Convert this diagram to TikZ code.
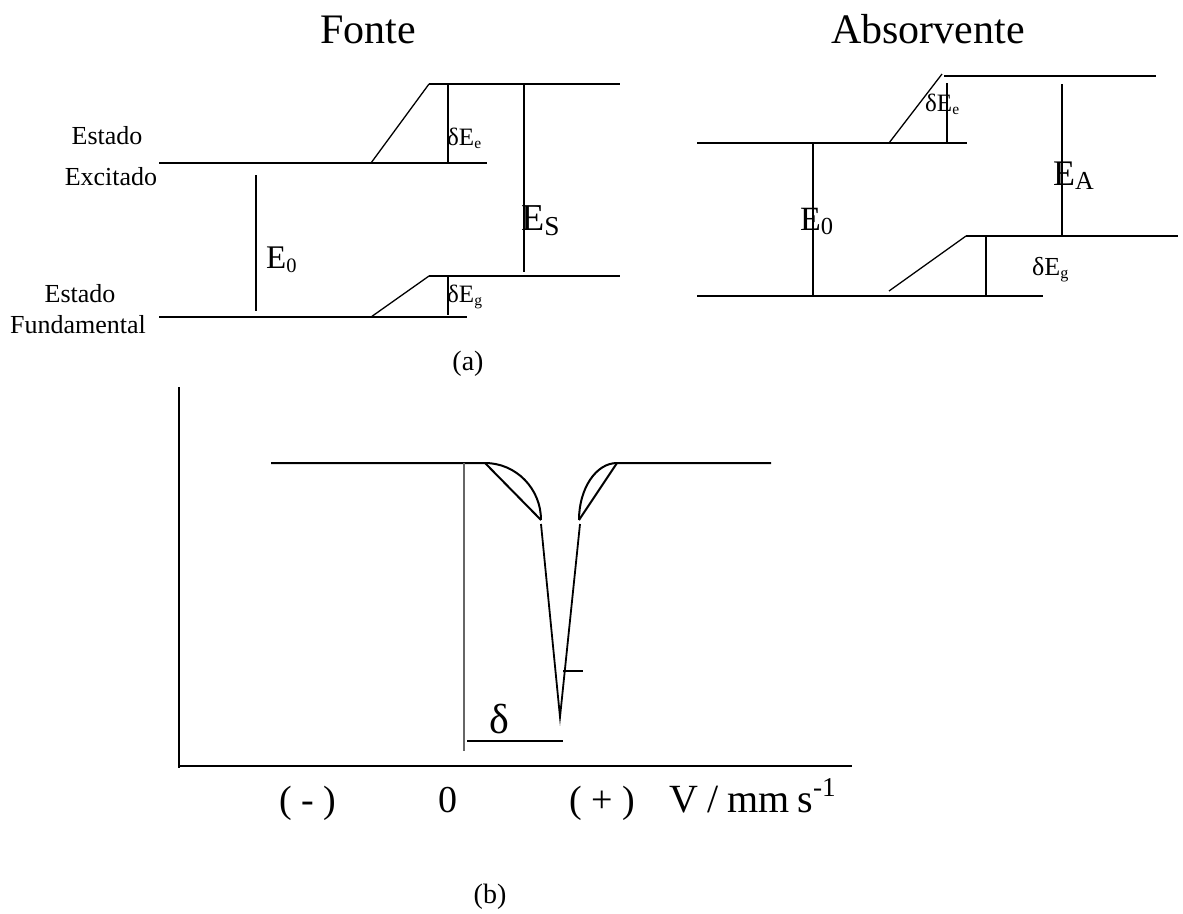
\documentclass[tikz,border=0pt]{standalone}
\usepackage{fontspec}
\setmainfont{Liberation Serif}
\newcommand\lowsub[1]{\raisebox{-0.3ex}{\scalebox{0.62}{#1}}}
\newcommand\upsup[1]{\raisebox{0.85ex}{\scalebox{0.68}{#1}}}
\newcommand\fsz[1]{\fontsize{#1}{#1}\selectfont}
\begin{document}
\begin{tikzpicture}[x=1pt,y=-1pt,
  lvl/.style={line width=2.8pt},
  thinl/.style={line width=1.3pt},
  vl/.style={line width=1.6pt},
  crv/.style={line width=2pt},
  lbl/.style={inner sep=0pt,anchor=base west},
  ctr/.style={inner sep=0pt,anchor=base}]
\useasboundingbox (0,0) rectangle (1183,913);
% titles
\node[ctr] (tF) at (368,43) {\fsz{42}Fonte};
\node[ctr] (tA) at (928,43) {\fsz{42}Absorvente};
% left labels
\node[ctr] (es1) at (107,144) {\fsz{26}Estado};
\node[ctr] (ex1) at (111,185) {\fsz{26}Excitado};
\node[ctr] (es2) at (80,302) {\fsz{26}Estado};
\node[ctr] (fu2) at (78,333) {\fsz{26}Fundamental};
% ---- Fonte levels
\coordinate (a1) at (159,163); \coordinate (a2) at (371,163); \coordinate (a3) at (487,163);
\coordinate (a4) at (429,84);  \coordinate (a5) at (620,84);
\coordinate (a6) at (429,276); \coordinate (a7) at (620,276);
\coordinate (a8) at (159,317); \coordinate (a9) at (371,317); \coordinate (a10) at (467,317);
\draw[lvl] (a1) -- (a2);
\draw[thinl] (a2) -- (a3);
\draw[thinl] (a2) -- (a4);
\draw[lvl] (a4) -- (a5);
\draw[lvl] (a6) -- (a7);
\draw[lvl] (a8) -- (a9);
\draw[thinl] (a9) -- (a10);
\draw[thinl] (a9) -- (a6);
\coordinate (dEeT) at (448,84); \coordinate (dEeB) at (448,162);
\coordinate (EsT) at (524,84); \coordinate (EsB) at (524,272);
\coordinate (dEgT) at (448,276); \coordinate (dEgB) at (448,315);
\coordinate (E0T) at (256,175); \coordinate (E0B) at (256,311);
\draw[vl] (dEeT) -- (dEeB);
\draw[vl] (EsT) -- (EsB);
\draw[vl] (dEgT) -- (dEgB);
\draw[vl] (E0T) -- (E0B);
\node[lbl] (ldEe) at (447,145) {\fsz{25}δE\lowsub{e}};
\node[lbl] (ldEg) at (447,302) {\fsz{25}δE\lowsub{g}};
\node[lbl] (lE0) at (266,268) {\fsz{33}E\lowsub{0}};
\node[lbl] (lES) at (521,230) {\fsz{38}E\raisebox{-0.3ex}{\scalebox{0.72}{S}}};
\node[ctr] (capa) at (468,370) {\fsz{28}(a)};
% ---- Absorvente levels
\coordinate (b1) at (697,143); \coordinate (b2) at (889,143); \coordinate (b3) at (967,143);
\coordinate (b4) at (942,74); \coordinate (b4b) at (944,76); \coordinate (b5) at (1156,76);
\coordinate (b6) at (966,236); \coordinate (b7) at (1178,236);
\coordinate (b8) at (697,296); \coordinate (b9) at (889,296); \coordinate (b10) at (1043,296);
\coordinate (b11) at (889,291);
\draw[lvl] (b1) -- (b2);
\draw[thinl] (b2) -- (b3);
\draw[thinl] (b2) -- (b4);
\draw[lvl] (b4b) -- (b5);
\draw[lvl] (b6) -- (b7);
\draw[lvl] (b8) -- (b9);
\draw[thinl] (b9) -- (b10);
\draw[thinl] (b11) -- (b6);
\coordinate (rdEeT) at (947,83); \coordinate (rdEeB) at (947,143);
\coordinate (EAT) at (1062,84); \coordinate (EAB) at (1062,236);
\coordinate (rdEgT) at (986,236); \coordinate (rdEgB) at (986,296);
\coordinate (rE0T) at (813,143); \coordinate (rE0B) at (813,296);
\draw[vl] (rdEeT) -- (rdEeB);
\draw[vl] (EAT) -- (EAB);
\draw[vl] (rdEgT) -- (rdEgB);
\draw[vl] (rE0T) -- (rE0B);
\node[lbl] (rldEe) at (925,111) {\fsz{25}δE\lowsub{e}};
\node[lbl] (rldEg) at (1032,275) {\fsz{26}δE\lowsub{g}};
\node[lbl] (rlE0) at (800,230) {\fsz{34}E\raisebox{-0.3ex}{\scalebox{0.72}{0}}};
\node[lbl] (rlEA) at (1053,185) {\fsz{36}E\raisebox{-0.3ex}{\scalebox{0.72}{A}}};
% ---- spectrum (b)
\coordinate (yT) at (179,387); \coordinate (yB) at (179,768);
\coordinate (xL) at (179,766); \coordinate (xR) at (852,766);
\draw[line width=1.8pt] (yT) -- (yB);
\draw[line width=1.8pt] (xL) -- (xR);
\coordinate (s1) at (271,463); \coordinate (s2) at (485,463);
\coordinate (s3) at (541,520); \coordinate (s4) at (579,520);
\coordinate (s5) at (617,463); \coordinate (s6) at (771,463);
\coordinate (d1) at (541,524); \coordinate (d2) at (560,717); \coordinate (d3) at (580,524);
\draw[crv] (s1) -- (s2) arc[start angle=-90,end angle=0,x radius=56,y radius=57];
\draw[crv] (s2) -- (s3);
\draw[crv] (s4) arc[start angle=180,end angle=270,x radius=38,y radius=57] -- (s6);
\draw[crv] (s4) -- (s5);
\draw[line width=1.8pt] (d1) -- (d2) -- (d3);
\coordinate (t1) at (563,671); \coordinate (t2) at (583,671);
\draw[line width=2.4pt] (t1) -- (t2);
\coordinate (g1) at (464,463); \coordinate (g2) at (464,751);
\draw[line width=1.3pt,black!60] (g1) -- (g2);
\coordinate (u1) at (467,741); \coordinate (u2) at (563,741);
\draw[line width=1.6pt] (u1) -- (u2);
\node[ctr] (dl) at (499,733) {\fsz{42}δ};
\node[ctr] (xm) at (308,812) {\fsz{38}( - )};
\node[ctr] (x0) at (448,812) {\fsz{38}0};
\node[ctr] (xp) at (602,812) {\fsz{38}( + )};
\node[lbl] (xv) at (669,812) {\fsz{40}V\hspace{9pt}/\hspace{9pt}mm\hspace{8pt}s\upsup{-1}};
\node[ctr] (capb) at (490,903) {\fsz{28}(b)};
\end{tikzpicture}
\end{document}
